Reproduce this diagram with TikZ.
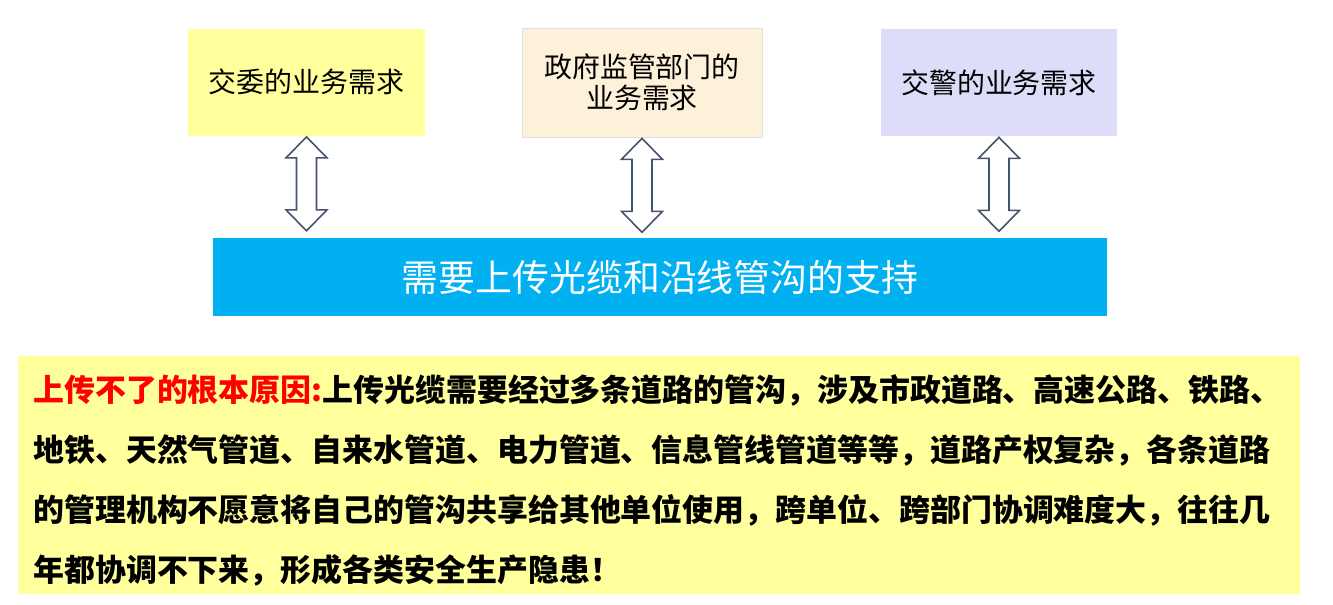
\documentclass[tikz,border=0pt]{standalone}
\usepackage{fontspec}
\usepackage{xcolor}
\usepackage{tikz}
\setmainfont{Noto Sans CJK SC}
\newfontfamily\cjk{Noto Sans CJK SC}
\newfontfamily\cjkheavy{Noto Sans CJK SC Black}
\definecolor{jwyellow}{HTML}{FFFF9C}
\definecolor{zfbeige}{HTML}{FDF2D9}
\definecolor{jjlilac}{HTML}{DDDDF9}
\definecolor{barblue}{HTML}{00B0F0}
\definecolor{arrowgray}{HTML}{44546A}

\begin{document}
\begin{tikzpicture}[
        box/.style={minimum width=4.75cm, minimum height=2.14cm, align=center, inner sep=0, font=\cjk\fontsize{15.9}{17.6}\selectfont},
        updown/.style={draw=arrowgray, line width=0.9pt, fill=white, line join=miter},
        barbox/.style={fill=barblue, minimum width=17.88cm, minimum height=1.56cm, text=white, font=\cjk\fontsize{21}{24}\selectfont},
        notebox/.style={fill=jwyellow, minimum width=25.64cm, minimum height=4.76cm}
    ]
        \useasboundingbox (0,0) rectangle (26.66,-12.08);

        \node[box, fill=jwyellow] (jw) at (6.13,-1.64) {交委的业务需求};
        \node[box, fill=zfbeige, draw=black!12, minimum width=4.8cm, minimum height=2.18cm] (zf) at (12.84,-1.65) {政府监管部门的\\业务需求};
        \node[box, fill=jjlilac, minimum width=4.72cm] (jj) at (19.98,-1.65) {交警的业务需求};

        \node[barbox] (bar) at (13.20,-5.54) {需要上传光缆和沿线管沟的支持};

        % double arrows between the boxes and the bar
        \foreach \n in {jw,zf,jj}
            \draw[updown] ([yshift=-0.02cm]\n.south) -- ++(-0.41,-0.42) -- ++(0.21,0) -- ++(0,-1.04)
                -- ++(-0.21,0) -- ++(0.41,-0.42) -- ++(0.41,0.42) -- ++(-0.21,0)
                -- ++(0,1.04) -- ++(0.21,0) -- cycle;

        \node[notebox] (note) at (13.18,-9.50) {};
        \node[anchor=west, align=left, inner sep=0, font=\cjkheavy\fontsize{17.6}{34.1}\selectfont] (why) at (0.66,-9.61)
            {\textcolor{red}{上传不了的根本原因:}上传光缆需要经过多条道路的管沟，涉及市政道路、高速公路、铁路、\\
             地铁、天然气管道、自来水管道、电力管道、信息管线管道等等，道路产权复杂，各条道路\\
             的管理机构不愿意将自己的管沟共享给其他单位使用，跨单位、跨部门协调难度大，往往几\\
             年都协调不下来，形成各类安全生产隐患！};
    \end{tikzpicture}
\end{document}
